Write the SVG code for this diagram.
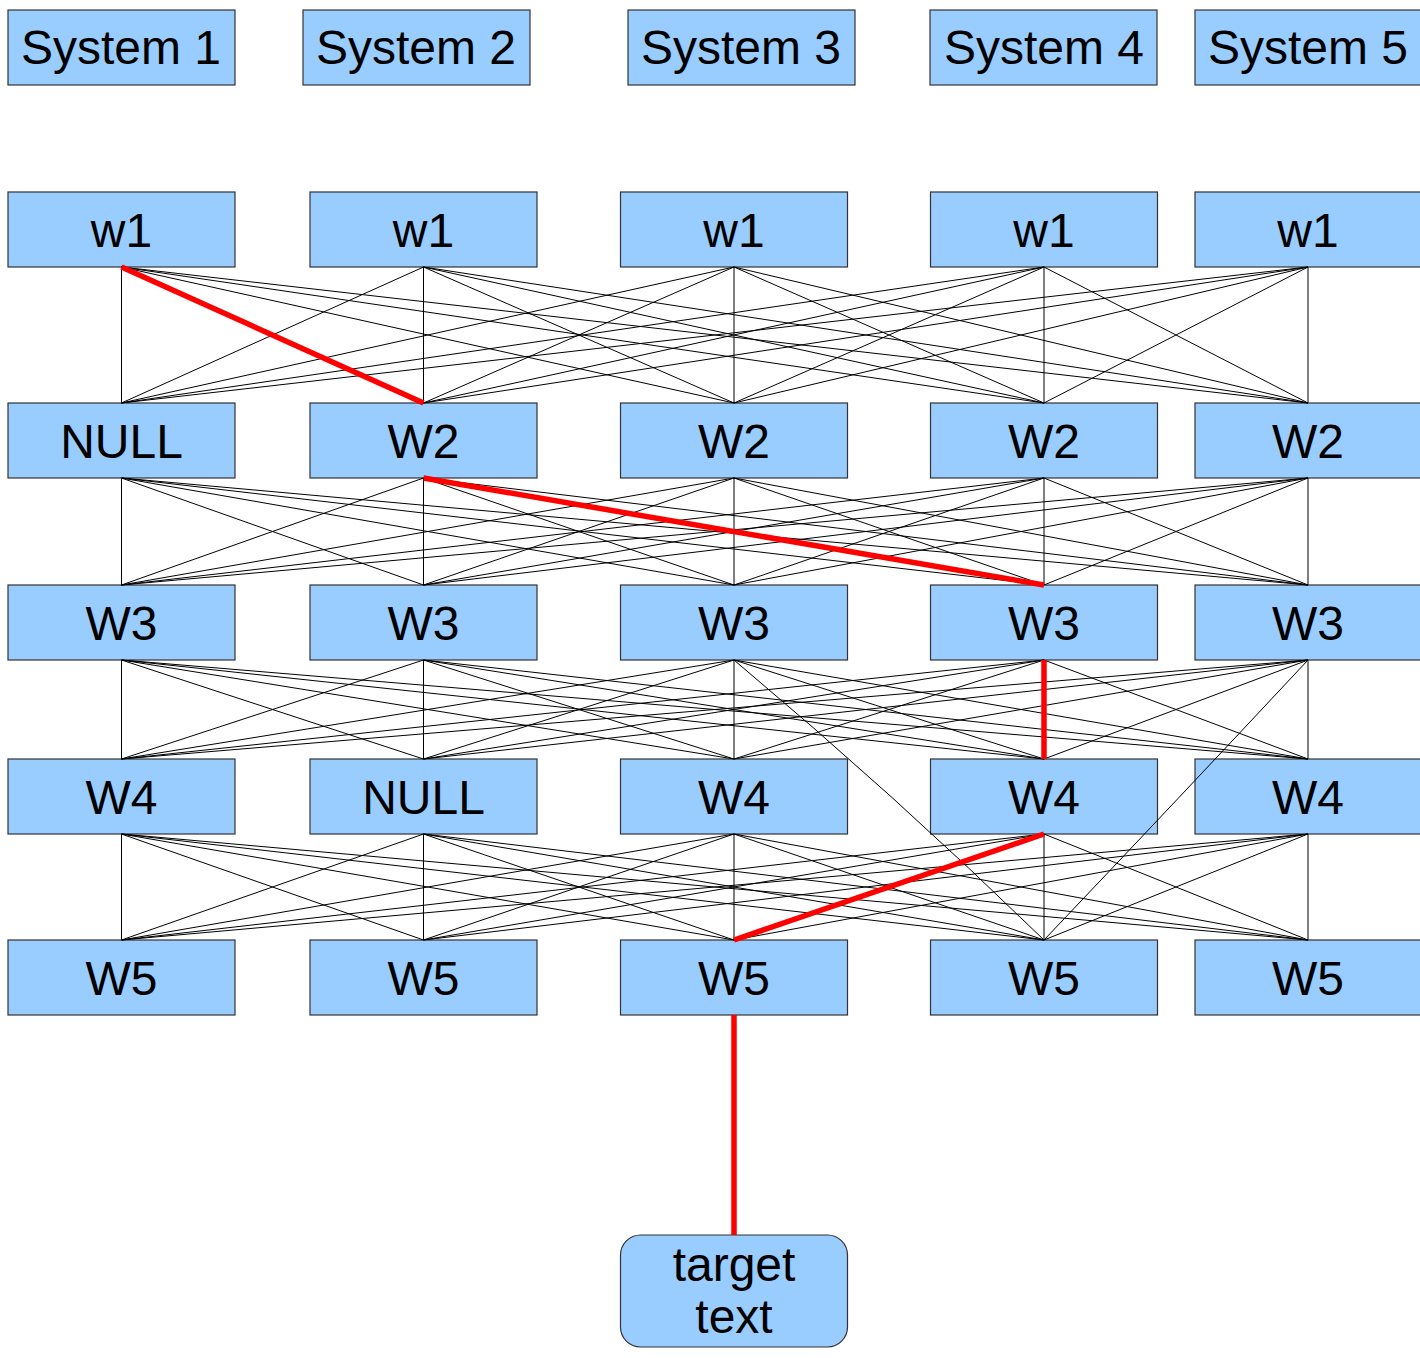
<svg xmlns="http://www.w3.org/2000/svg" width="1420" height="1358" viewBox="0 0 1420 1358">
  <style>
    .box { fill: #99ccff; stroke: #333333; stroke-width: 1.2; }
    .lbl { font-family: "Liberation Sans", Arial, sans-serif; font-size: 48px; fill: #000000; text-anchor: middle; }
    .edge { stroke: #000000; stroke-width: 1; fill: none; }
    .path { stroke: #ff0000; stroke-width: 5.5; fill: none; }
  </style>
  <rect x="0" y="0" width="1420" height="1358" fill="#ffffff"/>

  <!-- system headers -->
  <g id="system1"><rect class="box" x="8" y="10" width="227" height="75"/><text class="lbl" x="121" y="64">System 1</text></g>
  <g id="system2"><rect class="box" x="303" y="10" width="227" height="75"/><text class="lbl" x="416" y="64">System 2</text></g>
  <g id="system3"><rect class="box" x="628" y="10" width="227" height="75"/><text class="lbl" x="741" y="64">System 3</text></g>
  <g id="system4"><rect class="box" x="930" y="10" width="227" height="75"/><text class="lbl" x="1044" y="64">System 4</text></g>
  <g id="system5"><rect class="box" x="1195" y="10" width="227" height="75"/><text class="lbl" x="1308" y="64">System 5</text></g>

  <!-- row 1 -->
  <g id="r1c1"><rect class="box" x="8" y="192" width="227" height="75"/><text class="lbl" x="121.5" y="247">w1</text></g>
  <g id="r1c2"><rect class="box" x="310" y="192" width="227" height="75"/><text class="lbl" x="423.5" y="247">w1</text></g>
  <g id="r1c3"><rect class="box" x="620.5" y="192" width="227" height="75"/><text class="lbl" x="734" y="247">w1</text></g>
  <g id="r1c4"><rect class="box" x="930.5" y="192" width="227" height="75"/><text class="lbl" x="1044" y="247">w1</text></g>
  <g id="r1c5"><rect class="box" x="1195" y="192" width="227" height="75"/><text class="lbl" x="1308" y="247">w1</text></g>

  <!-- row 2 -->
  <g id="r2c1"><rect class="box" x="8" y="403" width="227" height="75"/><text class="lbl" x="121.5" y="458">NULL</text></g>
  <g id="r2c2"><rect class="box" x="310" y="403" width="227" height="75"/><text class="lbl" x="423.5" y="458">W2</text></g>
  <g id="r2c3"><rect class="box" x="620.5" y="403" width="227" height="75"/><text class="lbl" x="734" y="458">W2</text></g>
  <g id="r2c4"><rect class="box" x="930.5" y="403" width="227" height="75"/><text class="lbl" x="1044" y="458">W2</text></g>
  <g id="r2c5"><rect class="box" x="1195" y="403" width="227" height="75"/><text class="lbl" x="1308" y="458">W2</text></g>

  <!-- row 3 -->
  <g id="r3c1"><rect class="box" x="8" y="585" width="227" height="75"/><text class="lbl" x="121.5" y="640">W3</text></g>
  <g id="r3c2"><rect class="box" x="310" y="585" width="227" height="75"/><text class="lbl" x="423.5" y="640">W3</text></g>
  <g id="r3c3"><rect class="box" x="620.5" y="585" width="227" height="75"/><text class="lbl" x="734" y="640">W3</text></g>
  <g id="r3c4"><rect class="box" x="930.5" y="585" width="227" height="75"/><text class="lbl" x="1044" y="640">W3</text></g>
  <g id="r3c5"><rect class="box" x="1195" y="585" width="227" height="75"/><text class="lbl" x="1308" y="640">W3</text></g>

  <!-- row 4 -->
  <g id="r4c1"><rect class="box" x="8" y="759" width="227" height="75"/><text class="lbl" x="121.5" y="814">W4</text></g>
  <g id="r4c2"><rect class="box" x="310" y="759" width="227" height="75"/><text class="lbl" x="423.5" y="814">NULL</text></g>
  <g id="r4c3"><rect class="box" x="620.5" y="759" width="227" height="75"/><text class="lbl" x="734" y="814">W4</text></g>
  <g id="r4c4"><rect class="box" x="930.5" y="759" width="227" height="75"/><text class="lbl" x="1044" y="814">W4</text></g>
  <g id="r4c5"><rect class="box" x="1195" y="759" width="227" height="75"/><text class="lbl" x="1308" y="814">W4</text></g>

  <!-- row 5 -->
  <g id="r5c1"><rect class="box" x="8" y="940" width="227" height="75"/><text class="lbl" x="121.5" y="995">W5</text></g>
  <g id="r5c2"><rect class="box" x="310" y="940" width="227" height="75"/><text class="lbl" x="423.5" y="995">W5</text></g>
  <g id="r5c3"><rect class="box" x="620.5" y="940" width="227" height="75"/><text class="lbl" x="734" y="995">W5</text></g>
  <g id="r5c4"><rect class="box" x="930.5" y="940" width="227" height="75"/><text class="lbl" x="1044" y="995">W5</text></g>
  <g id="r5c5"><rect class="box" x="1195" y="940" width="227" height="75"/><text class="lbl" x="1308" y="995">W5</text></g>

  <!-- output -->
  <g id="target"><rect class="box" x="620.5" y="1235" width="227" height="112" rx="20" ry="20"/><text class="lbl" x="734" y="1281">target</text><text class="lbl" x="734" y="1333">text</text></g>

  <g id="connectors">
    <!-- w1 -> W2 layer -->
    <g class="layer1">
      <line class="edge" x1="121.5" y1="267" x2="121.5" y2="403"/>
      <line class="edge" x1="121.5" y1="267" x2="423.5" y2="403"/>
      <line class="edge" x1="121.5" y1="267" x2="734" y2="403"/>
      <line class="edge" x1="121.5" y1="267" x2="1044" y2="403"/>
      <line class="edge" x1="121.5" y1="267" x2="1308" y2="403"/>
      <line class="edge" x1="423.5" y1="267" x2="121.5" y2="403"/>
      <line class="edge" x1="423.5" y1="267" x2="423.5" y2="403"/>
      <line class="edge" x1="423.5" y1="267" x2="734" y2="403"/>
      <line class="edge" x1="423.5" y1="267" x2="1044" y2="403"/>
      <line class="edge" x1="423.5" y1="267" x2="1308" y2="403"/>
      <line class="edge" x1="734" y1="267" x2="121.5" y2="403"/>
      <line class="edge" x1="734" y1="267" x2="423.5" y2="403"/>
      <line class="edge" x1="734" y1="267" x2="734" y2="403"/>
      <line class="edge" x1="734" y1="267" x2="1044" y2="403"/>
      <line class="edge" x1="734" y1="267" x2="1308" y2="403"/>
      <line class="edge" x1="1044" y1="267" x2="121.5" y2="403"/>
      <line class="edge" x1="1044" y1="267" x2="423.5" y2="403"/>
      <line class="edge" x1="1044" y1="267" x2="734" y2="403"/>
      <line class="edge" x1="1044" y1="267" x2="1044" y2="403"/>
      <line class="edge" x1="1044" y1="267" x2="1308" y2="403"/>
      <line class="edge" x1="1308" y1="267" x2="121.5" y2="403"/>
      <line class="edge" x1="1308" y1="267" x2="423.5" y2="403"/>
      <line class="edge" x1="1308" y1="267" x2="734" y2="403"/>
      <line class="edge" x1="1308" y1="267" x2="1044" y2="403"/>
      <line class="edge" x1="1308" y1="267" x2="1308" y2="403"/>
    </g>
    <!-- W2 -> W3 layer -->
    <g class="layer2">
      <line class="edge" x1="121.5" y1="478" x2="121.5" y2="585"/>
      <line class="edge" x1="121.5" y1="478" x2="423.5" y2="585"/>
      <line class="edge" x1="121.5" y1="478" x2="734" y2="585"/>
      <line class="edge" x1="121.5" y1="478" x2="1044" y2="585"/>
      <line class="edge" x1="121.5" y1="478" x2="1308" y2="585"/>
      <line class="edge" x1="423.5" y1="478" x2="121.5" y2="585"/>
      <line class="edge" x1="423.5" y1="478" x2="423.5" y2="585"/>
      <line class="edge" x1="423.5" y1="478" x2="734" y2="585"/>
      <line class="edge" x1="423.5" y1="478" x2="1044" y2="585"/>
      <line class="edge" x1="423.5" y1="478" x2="1308" y2="585"/>
      <line class="edge" x1="734" y1="478" x2="121.5" y2="585"/>
      <line class="edge" x1="734" y1="478" x2="423.5" y2="585"/>
      <line class="edge" x1="734" y1="478" x2="734" y2="585"/>
      <line class="edge" x1="734" y1="478" x2="1044" y2="585"/>
      <line class="edge" x1="734" y1="478" x2="1308" y2="585"/>
      <line class="edge" x1="1044" y1="478" x2="121.5" y2="585"/>
      <line class="edge" x1="1044" y1="478" x2="423.5" y2="585"/>
      <line class="edge" x1="1044" y1="478" x2="734" y2="585"/>
      <line class="edge" x1="1044" y1="478" x2="1044" y2="585"/>
      <line class="edge" x1="1044" y1="478" x2="1308" y2="585"/>
      <line class="edge" x1="1308" y1="478" x2="121.5" y2="585"/>
      <line class="edge" x1="1308" y1="478" x2="423.5" y2="585"/>
      <line class="edge" x1="1308" y1="478" x2="734" y2="585"/>
      <line class="edge" x1="1308" y1="478" x2="1044" y2="585"/>
      <line class="edge" x1="1308" y1="478" x2="1308" y2="585"/>
    </g>
    <!-- W3 -> W4 layer -->
    <g class="layer3">
      <line class="edge" x1="121.5" y1="660" x2="121.5" y2="759"/>
      <line class="edge" x1="121.5" y1="660" x2="423.5" y2="759"/>
      <line class="edge" x1="121.5" y1="660" x2="734" y2="759"/>
      <line class="edge" x1="121.5" y1="660" x2="1044" y2="759"/>
      <line class="edge" x1="121.5" y1="660" x2="1308" y2="759"/>
      <line class="edge" x1="423.5" y1="660" x2="121.5" y2="759"/>
      <line class="edge" x1="423.5" y1="660" x2="423.5" y2="759"/>
      <line class="edge" x1="423.5" y1="660" x2="734" y2="759"/>
      <line class="edge" x1="423.5" y1="660" x2="1044" y2="759"/>
      <line class="edge" x1="423.5" y1="660" x2="1308" y2="759"/>
      <line class="edge" x1="734" y1="660" x2="121.5" y2="759"/>
      <line class="edge" x1="734" y1="660" x2="423.5" y2="759"/>
      <line class="edge" x1="734" y1="660" x2="734" y2="759"/>
      <line class="edge" x1="734" y1="660" x2="1044" y2="759"/>
      <line class="edge" x1="734" y1="660" x2="1308" y2="759"/>
      <line class="edge" x1="1044" y1="660" x2="121.5" y2="759"/>
      <line class="edge" x1="1044" y1="660" x2="423.5" y2="759"/>
      <line class="edge" x1="1044" y1="660" x2="734" y2="759"/>
      <line class="edge" x1="1044" y1="660" x2="1044" y2="759"/>
      <line class="edge" x1="1044" y1="660" x2="1308" y2="759"/>
      <line class="edge" x1="1308" y1="660" x2="121.5" y2="759"/>
      <line class="edge" x1="1308" y1="660" x2="423.5" y2="759"/>
      <line class="edge" x1="1308" y1="660" x2="734" y2="759"/>
      <line class="edge" x1="1308" y1="660" x2="1044" y2="759"/>
      <line class="edge" x1="1308" y1="660" x2="1308" y2="759"/>
    </g>
    <!-- W4 -> W5 layer -->
    <g class="layer4">
      <line class="edge" x1="121.5" y1="834" x2="121.5" y2="940"/>
      <line class="edge" x1="121.5" y1="834" x2="423.5" y2="940"/>
      <line class="edge" x1="121.5" y1="834" x2="734" y2="940"/>
      <line class="edge" x1="121.5" y1="834" x2="1044" y2="940"/>
      <line class="edge" x1="121.5" y1="834" x2="1308" y2="940"/>
      <line class="edge" x1="423.5" y1="834" x2="121.5" y2="940"/>
      <line class="edge" x1="423.5" y1="834" x2="423.5" y2="940"/>
      <line class="edge" x1="423.5" y1="834" x2="734" y2="940"/>
      <line class="edge" x1="423.5" y1="834" x2="1044" y2="940"/>
      <line class="edge" x1="423.5" y1="834" x2="1308" y2="940"/>
      <line class="edge" x1="734" y1="834" x2="121.5" y2="940"/>
      <line class="edge" x1="734" y1="834" x2="423.5" y2="940"/>
      <line class="edge" x1="734" y1="834" x2="734" y2="940"/>
      <line class="edge" x1="734" y1="834" x2="1044" y2="940"/>
      <line class="edge" x1="734" y1="834" x2="1308" y2="940"/>
      <line class="edge" x1="1044" y1="834" x2="121.5" y2="940"/>
      <line class="edge" x1="1044" y1="834" x2="423.5" y2="940"/>
      <line class="edge" x1="1044" y1="834" x2="734" y2="940"/>
      <line class="edge" x1="1044" y1="834" x2="1044" y2="940"/>
      <line class="edge" x1="1044" y1="834" x2="1308" y2="940"/>
      <line class="edge" x1="1308" y1="834" x2="121.5" y2="940"/>
      <line class="edge" x1="1308" y1="834" x2="423.5" y2="940"/>
      <line class="edge" x1="1308" y1="834" x2="734" y2="940"/>
      <line class="edge" x1="1308" y1="834" x2="1044" y2="940"/>
      <line class="edge" x1="1308" y1="834" x2="1308" y2="940"/>
    </g>
    <!-- skip links W3 -> W5 -->
    <path class="edge" d="M734 660 Q895 795 1044 940"/>
    <path class="edge" d="M1308 660 Q1180 797 1044 940"/>

    <!-- highlighted path -->
    <line class="path" x1="121.5" y1="267" x2="423.5" y2="403"/>
    <line class="path" x1="423.5" y1="478" x2="1044" y2="585"/>
    <line class="path" x1="1044" y1="660" x2="1044" y2="759"/>
    <line class="path" x1="1044" y1="834" x2="734" y2="940"/>
    <line class="path" x1="734" y1="1015" x2="734" y2="1235"/>
  </g>
</svg>
